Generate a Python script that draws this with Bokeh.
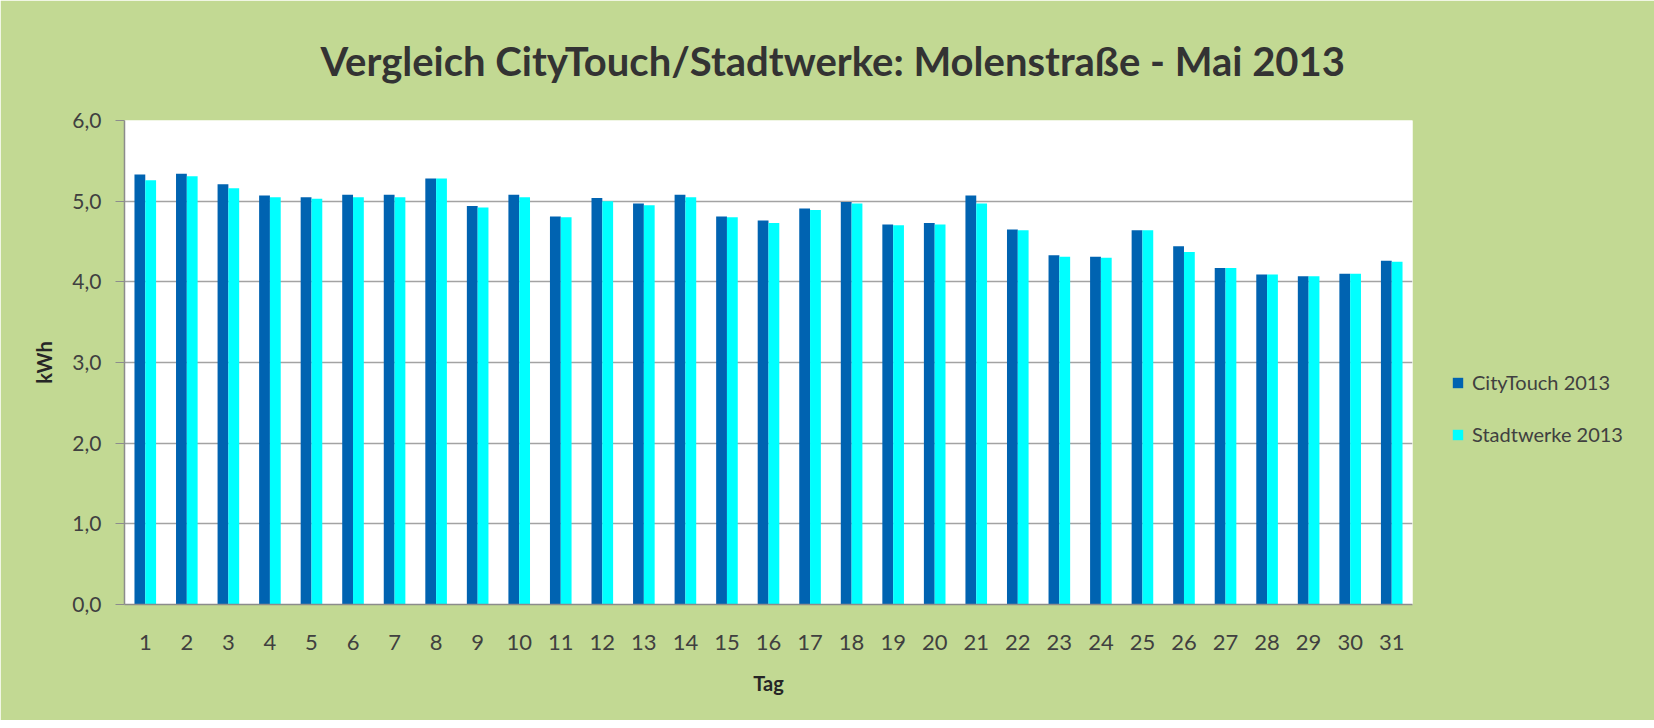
from bokeh.plotting import figure
from bokeh.models import ColumnDataSource, Range1d, FactorRange, FixedTicker, Title
from bokeh.transform import dodge
from bokeh.embed import file_html
from bokeh.resources import INLINE

days = [str(d) for d in range(1, 32)]
citytouch = [5.33, 5.34, 5.21, 5.07, 5.05, 5.08, 5.08, 5.28, 4.94, 5.08,
             4.81, 5.04, 4.97, 5.08, 4.81, 4.76, 4.91, 4.99, 4.71, 4.73,
             5.07, 4.65, 4.33, 4.31, 4.64, 4.44, 4.17, 4.09, 4.07, 4.10, 4.26]
stadtwerke = [5.26, 5.31, 5.16, 5.05, 5.03, 5.05, 5.05, 5.28, 4.92, 5.05,
              4.80, 5.00, 4.95, 5.05, 4.80, 4.73, 4.89, 4.97, 4.70, 4.71,
              4.97, 4.64, 4.31, 4.30, 4.64, 4.37, 4.17, 4.09, 4.07, 4.10, 4.25]
y_ticks = [0, 1, 2, 3, 4, 5, 6]
y_tick_labels = ["0,0", "1,0", "2,0", "3,0", "4,0", "5,0", "6,0"]
series_names = ["CityTouch 2013", "Stadtwerke 2013"]
title_text = "Vergleich CityTouch/Stadtwerke:  Molenstraße - Mai 2013"

GREEN = "#C2D993"
TEXT = "#404040"
FONT = "Lato"

src = ColumnDataSource(dict(day=days, ct=citytouch, sw=stadtwerke))

p = figure(x_range=FactorRange(*days), y_range=Range1d(0, 6),
           frame_width=1288, frame_height=484,
           min_border_left=124, min_border_right=231,
           min_border_top=120, min_border_bottom=116,
           output_backend="svg", toolbar_location=None,
           background_fill_color="white", border_fill_color=GREEN,
           outline_line_color=None)

t = Title(text=title_text, align="left", vertical_align="top",
          text_font=FONT, text_font_size="40px",
          text_font_style="bold", text_color="#333333", standoff=68, offset=196,
          text_line_height=1.0)
p.add_layout(t, "above")

p.vbar(x=dodge("day", -0.13, range=p.x_range), top="ct", width=0.26, source=src,
       fill_color="#0063B1", line_color=None, legend_label=series_names[0])
p.vbar(x=dodge("day", 0.13, range=p.x_range), top="sw", width=0.26, source=src,
       fill_color="#00FFFF", line_color=None, legend_label=series_names[1])

p.xgrid.grid_line_color = None
p.ygrid.grid_line_color = "#A3A3A3"
p.ygrid.grid_line_width = 1.5

p.yaxis.ticker = FixedTicker(ticks=y_ticks)
p.yaxis.major_label_overrides = {t_: l for t_, l in zip(y_ticks, y_tick_labels)}
for ax in (p.xaxis[0], p.yaxis[0]):
    ax.axis_line_color = "#8C8C8C"
    ax.axis_line_width = 1.5
    ax.major_label_text_font = FONT
    ax.major_label_text_font_size = "21px"
    ax.major_label_text_color = TEXT
    ax.axis_label_text_font = FONT
    ax.axis_label_text_font_size = "20px"
    ax.axis_label_text_font_style = "bold"
    ax.axis_label_text_color = "#262626"
    ax.minor_tick_line_color = None

p.xaxis.major_label_text_font_size = "22px"

p.yaxis.axis_label = "kWh"
p.yaxis.major_tick_out = 9
p.yaxis.major_tick_in = 0
p.yaxis.major_tick_line_color = "#8C8C8C"
p.yaxis.major_label_standoff = 14
p.yaxis.axis_label_standoff = 13

p.xaxis.axis_label = "Tag"
p.xaxis.major_tick_line_color = None
p.xaxis.major_label_standoff = 24
p.xaxis.axis_label_standoff = 18
p.x_range.range_padding = 0
p.x_range.group_padding = 0

lg = p.legend[0]
p.add_layout(lg, "right")
lg.location = (39, 158)
lg.border_line_color = None
lg.background_fill_alpha = 0
lg.padding = 0
lg.margin = 0
lg.glyph_width = 13
lg.glyph_height = 13
lg.label_height = 20
lg.spacing = 28
lg.label_standoff = 8
lg.label_text_font = FONT
lg.label_text_font_size = "20px"
lg.label_text_color = TEXT

open("out.html", "w").write(file_html(p, INLINE))
